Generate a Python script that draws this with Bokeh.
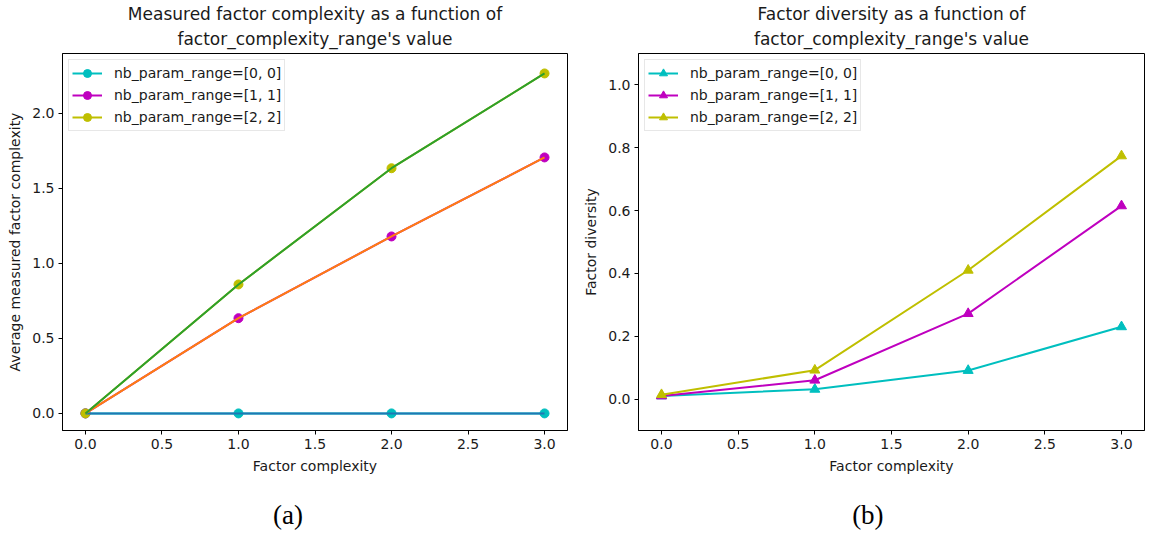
from bokeh.plotting import figure
from bokeh.models import (Range1d, FixedTicker, PrintfTickFormatter, Legend,
                          LegendItem, Title, LinearAxis)
from bokeh.layouts import row
from bokeh.embed import file_html
from bokeh.resources import INLINE

# ---------------- data ----------------
x_values = [0, 1, 2, 3]
series_labels = ["nb_param_range=[0, 0]", "nb_param_range=[1, 1]", "nb_param_range=[2, 2]"]

complexity_00 = [0.0, 0.0, 0.0, 0.0]
complexity_11 = [0.0, 0.635, 1.18, 1.707]
complexity_22 = [0.0, 0.86, 1.635, 2.267]

diversity_00 = [0.01, 0.031, 0.091, 0.23]
diversity_11 = [0.01, 0.06, 0.272, 0.615]
diversity_22 = [0.014, 0.092, 0.41, 0.774]

x_ticks = [0, 0.5, 1, 1.5, 2, 2.5, 3]
y_ticks_a = [0, 0.5, 1, 1.5, 2]
y_ticks_b = [0, 0.2, 0.4, 0.6, 0.8, 1.0]

# ---------------- styles ----------------
MARK_COLORS = ["#00bfbf", "#bf00bf", "#bfbf00"]
OVER_COLORS = ["#1f77b4", "#ff7f0e", "#2ca02c"]
FONT = "DejaVu Sans"
TXT = "#1a1a1a"
NBSP = "\u00a0"


def base_fig(width, left, right, yr, yticks, ylabel, t1, t2, caption, cap_pad):
    p = figure(width=width, height=538, x_range=Range1d(-0.15, 3.15),
               y_range=Range1d(*yr), output_backend="svg", toolbar_location=None,
               title=None, min_border_left=left, min_border_right=right,
               min_border_top=53, min_border_bottom=108)
    p.background_fill_color = "white"
    p.border_fill_color = "white"
    p.outline_line_color = "black"
    p.outline_line_width = 1
    p.xgrid.visible = False
    p.ygrid.visible = False
    for ax, ticks in ((p.xaxis[0], x_ticks), (p.yaxis[0], yticks)):
        ax.ticker = FixedTicker(ticks=ticks)
        ax.formatter = PrintfTickFormatter(format="%.1f")
        ax.minor_tick_line_color = None
        ax.major_tick_in = 0
        ax.major_tick_out = 4
        ax.major_tick_line_color = "black"
        ax.axis_line_color = "black"
        ax.major_label_text_font = FONT
        ax.major_label_text_font_size = "14px"
        ax.major_label_text_color = TXT
        ax.axis_label_text_font = FONT
        ax.axis_label_text_font_size = "14px"
        ax.axis_label_text_font_style = "normal"
        ax.axis_label_text_color = TXT
        ax.major_label_standoff = 4
        ax.axis_label_standoff = 6
    p.xaxis[0].axis_label = "Factor complexity"
    p.yaxis[0].axis_label = ylabel
    p.add_layout(Title(text=t2, align="center", text_font=FONT, text_font_size="17px",
                       text_font_style="normal", text_color=TXT, standoff=9), "above")
    p.add_layout(Title(text=t1, align="center", text_font=FONT, text_font_size="17px",
                       text_font_style="normal", text_color=TXT, standoff=-3), "above")
    # caption "(a)" / "(b)" drawn as the label of an otherwise empty axis
    cap_axis = LinearAxis(axis_label=caption + NBSP * cap_pad,
                          ticker=FixedTicker(ticks=[]),
                          axis_line_color=None, major_tick_line_color=None,
                          minor_tick_line_color=None, major_tick_out=0, major_tick_in=0,
                          minor_tick_out=0, minor_tick_in=0, major_label_standoff=0,
                          axis_label_standoff=23,
                          axis_label_text_font="Liberation Serif",
                          axis_label_text_font_size="27px",
                          axis_label_text_font_style="normal",
                          axis_label_text_color="black")
    p.add_layout(cap_axis, "below")
    return p


def style_legend(leg):
    leg.location = "top_left"
    leg.label_text_font = FONT
    leg.label_text_font_size = "14px"
    leg.label_text_color = TXT
    leg.border_line_color = "#d0d0d0"
    leg.background_fill_alpha = 0.8
    leg.margin = 6
    leg.padding = 3
    leg.spacing = 2
    leg.label_height = 20
    leg.glyph_height = 20
    leg.glyph_width = 30
    leg.label_standoff = 12


# ---------------- panel (a) ----------------
pa = base_fig(580, 62, 13, (-0.114, 2.40), y_ticks_a, "Average measured factor complexity",
              "Measured factor complexity as a function of",
              "factor_complexity_range's value", "(a)", 8)
items_a = []
for ys, mc, lab in zip([complexity_00, complexity_11, complexity_22], MARK_COLORS, series_labels):
    lr = pa.line(x_values, ys, color=mc, line_width=2)
    sr = pa.scatter(x_values, ys, marker="circle", size=9, color=mc)
    items_a.append(LegendItem(label=lab, renderers=[lr, sr]))
for ys, oc in zip([complexity_00, complexity_11, complexity_22], OVER_COLORS):
    pa.line(x_values, ys, color=oc, line_width=2)
leg_a = Legend(items=items_a)
style_legend(leg_a)
pa.add_layout(leg_a)

# ---------------- panel (b) ----------------
pb = base_fig(565, 58, 1, (-0.1, 1.1), y_ticks_b, "Factor diversity",
              "Factor diversity as a function of",
              "factor_complexity_range's value", "(b)", 7)
items_b = []
for ys, mc, lab in zip([diversity_00, diversity_11, diversity_22], MARK_COLORS, series_labels):
    lr = pb.line(x_values, ys, color=mc, line_width=2)
    sr = pb.scatter(x_values, ys, marker="triangle", size=10, color=mc)
    items_b.append(LegendItem(label=lab, renderers=[lr, sr]))
leg_b = Legend(items=items_b)
style_legend(leg_b)
pb.add_layout(leg_b)

layout = row(pa, pb)
open("out.html", "w").write(file_html(layout, INLINE))
